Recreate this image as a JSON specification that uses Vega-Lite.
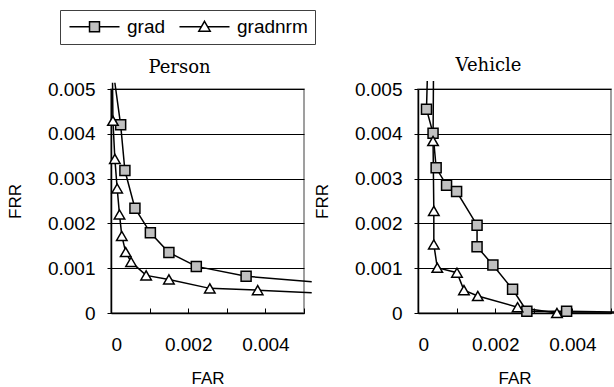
{
  "$schema": "https://vega.github.io/schema/vega-lite/v6.json",
  "padding": {"left": 5, "top": 9, "right": 5, "bottom": 5},
  "background": "white",
  "spacing": -4,
  "data": {"values": [
    {"panel": "Person", "series": "grad", "i": 0, "FAR": 0.0001, "FRR": 0.00514},
    {"panel": "Person", "series": "grad", "i": 1, "FAR": 0.00025, "FRR": 0.0042},
    {"panel": "Person", "series": "grad", "i": 2, "FAR": 0.00036, "FRR": 0.00318},
    {"panel": "Person", "series": "grad", "i": 3, "FAR": 0.00062, "FRR": 0.00234},
    {"panel": "Person", "series": "grad", "i": 4, "FAR": 0.00102, "FRR": 0.00179},
    {"panel": "Person", "series": "grad", "i": 5, "FAR": 0.0015, "FRR": 0.00135},
    {"panel": "Person", "series": "grad", "i": 6, "FAR": 0.00221, "FRR": 0.00104},
    {"panel": "Person", "series": "grad", "i": 7, "FAR": 0.0035, "FRR": 0.00082},
    {"panel": "Person", "series": "grad", "i": 8, "FAR": 0.0052, "FRR": 0.0007},
    {"panel": "Person", "series": "gradnrm", "i": 0, "FAR": 0.00004, "FRR": 0.00514},
    {"panel": "Person", "series": "gradnrm", "i": 1, "FAR": 0.00005, "FRR": 0.00429},
    {"panel": "Person", "series": "gradnrm", "i": 2, "FAR": 0.0001, "FRR": 0.00344},
    {"panel": "Person", "series": "gradnrm", "i": 3, "FAR": 0.00016, "FRR": 0.00278},
    {"panel": "Person", "series": "gradnrm", "i": 4, "FAR": 0.00022, "FRR": 0.0022},
    {"panel": "Person", "series": "gradnrm", "i": 5, "FAR": 0.00028, "FRR": 0.00172},
    {"panel": "Person", "series": "gradnrm", "i": 6, "FAR": 0.00038, "FRR": 0.00136},
    {"panel": "Person", "series": "gradnrm", "i": 7, "FAR": 0.00052, "FRR": 0.00114},
    {"panel": "Person", "series": "gradnrm", "i": 8, "FAR": 0.00091, "FRR": 0.00084},
    {"panel": "Person", "series": "gradnrm", "i": 9, "FAR": 0.0015, "FRR": 0.00075},
    {"panel": "Person", "series": "gradnrm", "i": 10, "FAR": 0.00256, "FRR": 0.00055},
    {"panel": "Person", "series": "gradnrm", "i": 11, "FAR": 0.0038, "FRR": 0.00051},
    {"panel": "Person", "series": "gradnrm", "i": 12, "FAR": 0.0052, "FRR": 0.00045},
    {"panel": "Vehicle", "series": "grad", "i": 0, "FAR": 0.00024, "FRR": 0.00518},
    {"panel": "Vehicle", "series": "grad", "i": 1, "FAR": 0.00022, "FRR": 0.00455},
    {"panel": "Vehicle", "series": "grad", "i": 2, "FAR": 0.00039, "FRR": 0.00401},
    {"panel": "Vehicle", "series": "grad", "i": 3, "FAR": 0.00047, "FRR": 0.00324},
    {"panel": "Vehicle", "series": "grad", "i": 4, "FAR": 0.00074, "FRR": 0.00285},
    {"panel": "Vehicle", "series": "grad", "i": 5, "FAR": 0.001, "FRR": 0.00271},
    {"panel": "Vehicle", "series": "grad", "i": 6, "FAR": 0.00153, "FRR": 0.00196},
    {"panel": "Vehicle", "series": "grad", "i": 7, "FAR": 0.00153, "FRR": 0.00148},
    {"panel": "Vehicle", "series": "grad", "i": 8, "FAR": 0.00194, "FRR": 0.00107},
    {"panel": "Vehicle", "series": "grad", "i": 9, "FAR": 0.00245, "FRR": 0.00053},
    {"panel": "Vehicle", "series": "grad", "i": 10, "FAR": 0.00282, "FRR": 0.00004},
    {"panel": "Vehicle", "series": "grad", "i": 11, "FAR": 0.00385, "FRR": 0.00004},
    {"panel": "Vehicle", "series": "grad", "i": 12, "FAR": 0.0052, "FRR": 0.00002},
    {"panel": "Vehicle", "series": "gradnrm", "i": 0, "FAR": 0.0004, "FRR": 0.00518},
    {"panel": "Vehicle", "series": "gradnrm", "i": 1, "FAR": 0.00039, "FRR": 0.00384},
    {"panel": "Vehicle", "series": "gradnrm", "i": 2, "FAR": 0.00041, "FRR": 0.00228},
    {"panel": "Vehicle", "series": "gradnrm", "i": 3, "FAR": 0.00041, "FRR": 0.00153},
    {"panel": "Vehicle", "series": "gradnrm", "i": 4, "FAR": 0.0005, "FRR": 0.00101},
    {"panel": "Vehicle", "series": "gradnrm", "i": 5, "FAR": 0.00101, "FRR": 0.0009},
    {"panel": "Vehicle", "series": "gradnrm", "i": 6, "FAR": 0.00119, "FRR": 0.00051},
    {"panel": "Vehicle", "series": "gradnrm", "i": 7, "FAR": 0.00155, "FRR": 0.00038},
    {"panel": "Vehicle", "series": "gradnrm", "i": 8, "FAR": 0.00258, "FRR": 0.00013},
    {"panel": "Vehicle", "series": "gradnrm", "i": 9, "FAR": 0.0036, "FRR": 0.0},
    {"panel": "Vehicle", "series": "gradnrm", "i": 10, "FAR": 0.0052, "FRR": 0.0}
  ]},
  "hconcat": [
    {
      "width": 193,
      "height": 224,
      "title": {"text": "Person", "dx": -28, "offset": 3},
      "transform": [{"filter": "datum.panel == 'Person'"}],
      "encoding": {
        "x": {"field": "FAR", "type": "quantitative", "scale": {"domain": [0, 0.005], "nice": false, "zero": false}, "title": "FAR"},
        "y": {"field": "FRR", "type": "quantitative", "scale": {"domain": [0, 0.005], "nice": false, "zero": false}, "title": "FRR"}
      },
      "layer": [
        {
          "mark": {"type": "line", "color": "black", "strokeWidth": 1.5, "clip": false},
          "encoding": {"detail": {"field": "series"}, "order": {"field": "i", "type": "quantitative"}}
        },
        {
          "transform": [{"filter": "datum.series == 'grad' && datum.FAR <= 0.005 && datum.FRR <= 0.005"}],
          "mark": {"type": "point", "shape": "square", "filled": true, "fill": "#c0c0c0", "stroke": "black", "strokeWidth": 1.5, "size": 100, "opacity": 1}
        },
        {
          "transform": [{"filter": "datum.series == 'gradnrm' && datum.FAR <= 0.005 && datum.FRR <= 0.005"}],
          "mark": {"type": "point", "shape": "triangle-up", "filled": true, "fill": "#ffffff", "stroke": "black", "strokeWidth": 1.5, "size": 110, "opacity": 1}
        },
        {
          "transform": [{"filter": "datum.FAR < 0"}],
          "mark": {"type": "point", "filled": true, "stroke": "black", "strokeWidth": 1.5, "opacity": 1},
          "encoding": {
            "shape": {"field": "series", "type": "nominal", "scale": {"domain": ["grad", "gradnrm"], "range": ["M-4.17,0H-0.83M0.83,0H4.17M-0.83,-0.83H0.83V0.83H-0.83Z", "M-4.17,0H-0.52M0.52,0H4.17M0,-0.9L0.95,0.75H-0.95Z"]},
              "legend": {"encode": {"symbols": {"update": {"stroke": {"value": "black"}, "strokeWidth": {"value": 1.5}}}}}},
            "fill": {"field": "series", "type": "nominal", "scale": {"domain": ["grad", "gradnrm"], "range": ["#c0c0c0", "#ffffff"]},
              "legend": {"encode": {"symbols": {"update": {"stroke": {"value": "black"}, "strokeWidth": {"value": 1.5}}}}}}
          }
        }
      ]
    },
    {
      "width": 193,
      "height": 224,
      "title": {"text": "Vehicle", "dx": -26, "offset": 3},
      "transform": [{"filter": "datum.panel == 'Vehicle'"}],
      "encoding": {
        "x": {"field": "FAR", "type": "quantitative", "scale": {"domain": [0, 0.005], "nice": false, "zero": false}, "title": "FAR"},
        "y": {"field": "FRR", "type": "quantitative", "scale": {"domain": [0, 0.005], "nice": false, "zero": false}, "title": "FRR"}
      },
      "layer": [
        {
          "mark": {"type": "line", "color": "black", "strokeWidth": 1.5, "clip": false},
          "encoding": {"detail": {"field": "series"}, "order": {"field": "i", "type": "quantitative"}}
        },
        {
          "transform": [{"filter": "datum.series == 'grad' && datum.FAR <= 0.005 && datum.FRR <= 0.005"}],
          "mark": {"type": "point", "shape": "square", "filled": true, "fill": "#c0c0c0", "stroke": "black", "strokeWidth": 1.5, "size": 100, "opacity": 1}
        },
        {
          "transform": [{"filter": "datum.series == 'gradnrm' && datum.FAR <= 0.005 && datum.FRR <= 0.005"}],
          "mark": {"type": "point", "shape": "triangle-up", "filled": true, "fill": "#ffffff", "stroke": "black", "strokeWidth": 1.5, "size": 110, "opacity": 1}
        }
      ]
    }
  ],
  "config": {
    "view": {"stroke": "#808080", "strokeWidth": 1.5},
    "title": {"font": "DejaVu Serif", "fontSize": 18, "fontWeight": "normal", "color": "black", "anchor": "middle", "baseline": "alphabetic"},
    "axis": {"labelFont": "Liberation Sans", "labelFontSize": 19, "labelColor": "black", "titleFont": "Liberation Sans", "titleFontSize": 17, "titleFontWeight": "normal", "titleColor": "#000000", "domainColor": "black", "domainWidth": 1.5, "tickColor": "black", "format": "~g"},
    "axisX": {"values": [0, 0.002, 0.004], "grid": false, "tickSize": -5, "labelPadding": 27, "titlePadding": 16},
    "axisY": {"values": [0, 0.001, 0.002, 0.003, 0.004, 0.005], "grid": true, "gridColor": "black", "gridWidth": 1, "gridOpacity": 1, "tickSize": 4, "labelPadding": 12, "titlePadding": 23, "titleColor": "#000000"},
    "legend": {
      "orient": "none", "legendX": -51, "legendY": -79,
      "direction": "horizontal", "columns": 2, "title": null,
      "strokeColor": "#404040", "fillColor": "white", "padding": 7,
      "symbolSize": 144, "symbolStrokeColor": "black", "symbolStrokeWidth": 1.5, "symbolOffset": 18, "labelOffset": 23, "columnPadding": 10,
      "labelFont": "Liberation Sans", "labelFontSize": 19, "labelColor": "black",
      "symbolOpacity": 1,
      "labelLimit": 200
    },
    "mark": {"tooltip": false}
  }
}
